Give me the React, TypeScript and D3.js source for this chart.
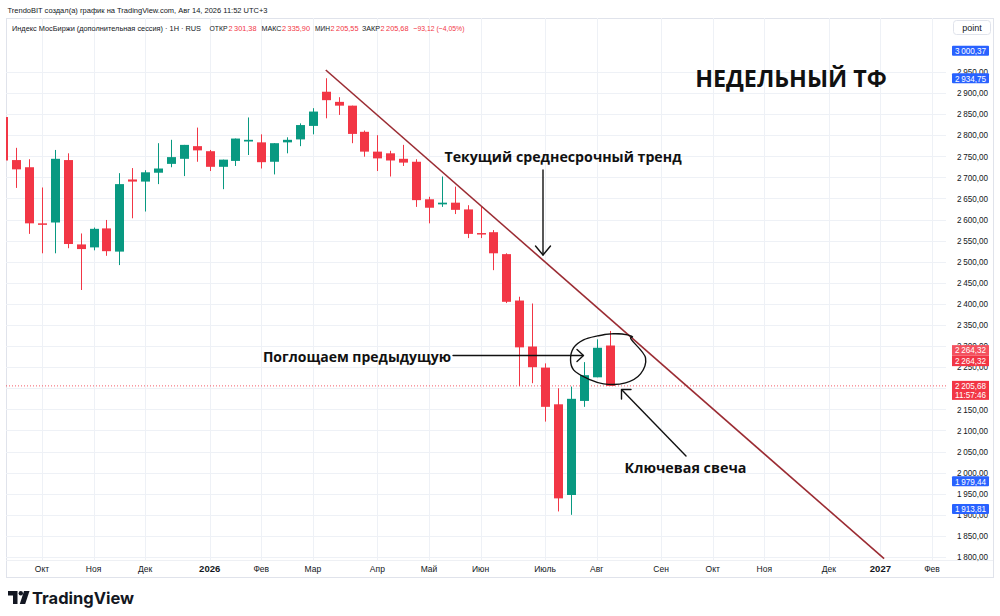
import React from "react";
import * as d3 from "d3";

// ---------- DATA ----------
const weeks = [
  "2025-09-15","2025-09-22","2025-09-29","2025-10-06","2025-10-13","2025-10-20","2025-10-27",
  "2025-11-03","2025-11-10","2025-11-17","2025-11-24","2025-12-01","2025-12-08","2025-12-15",
  "2025-12-22","2025-12-29","2026-01-05","2026-01-12","2026-01-19","2026-01-26","2026-02-02",
  "2026-02-09","2026-02-16","2026-02-23","2026-03-02","2026-03-09","2026-03-16","2026-03-23",
  "2026-03-30","2026-04-06","2026-04-13","2026-04-20","2026-04-27","2026-05-04","2026-05-11",
  "2026-05-18","2026-05-25","2026-06-01","2026-06-08","2026-06-15","2026-06-22","2026-06-29",
  "2026-07-06","2026-07-13","2026-07-20","2026-07-27","2026-08-03","2026-08-10",
];
const opens = [
  2843,2741,2724,2591,2593,2741,2541,2534,2579,2524,2695,2690,2711,2732,
  2744,2774,2762,2725,2739,2785,2783,2737,2783,2790,2822,2903,2879,2870,
  2808,2761,2757,2744,2737,2648,2636,2640,2624,2568,2570,2518,2408,2299,
  2249,2162,1947,2170,2226,2301.38,
];
const highs = [
  2843,2770,2743,2676,2765,2757,2567,2581,2599,2710,2722,2717,2781,2789,
  2777,2818,2765,2742,2792,2842,2802,2781,2795,2828,2864,2935,2890,2870,
  2811,2800,2763,2777,2743,2654,2702,2678,2634,2630,2575,2520,2417,2401,
  2259,2200,2204,2262,2316,2335.9,
];
const lows = [
  2734,2675,2566,2520,2520,2532,2433,2527,2514,2492,2603,2619,2684,2724,
  2703,2737,2715,2672,2727,2753,2721,2707,2757,2774,2802,2840,2848,2781,
  2749,2715,2702,2727,2630,2591,2630,2613,2556,2556,2480,2402,2205,2212,
  2121,1908,1900,2156,2226,2205.55,
];
const closes = [
  2740,2719,2591,2588,2744,2542,2530,2578,2525,2684,2690,2712,2721,2748,
  2777,2764,2725,2742,2792,2789,2736,2781,2789,2824,2856,2883,2870,2803,
  2761,2745,2740,2735,2646,2628,2640,2623,2566,2566,2520,2405,2297,2250,
  2156,1939,2175,2231,2296,2205.68,
];

const monthTickDates = [
  "2025-10-06","2025-11-03","2025-12-01","2026-01-05","2026-02-02","2026-03-02",
  "2026-04-06","2026-05-04","2026-06-01","2026-07-06","2026-08-03","2026-09-07",
  "2026-10-05","2026-11-02","2026-12-07","2027-01-04","2027-02-01",
];
const monthTickLabels = [
  "Окт","Ноя","Дек","2026","Фев","Мар","Апр","Май","Июн","Июль","Авг","Сен",
  "Окт","Ноя","Дек","2027","Фев",
];
const priceTicks = [
  1800,1850,1900,1950,2000,2050,2100,2150,2250,2300,2350,2400,2450,
  2500,2550,2600,2650,2700,2750,2800,2850,2900,2950,
];
const trendDates = ["2026-03-09", "2027-01-06"];
const trendValues = [2954.5, 1796];

const lastClose = 2205.68;
const redLabels = [2264.32, 2264.32];
const blueLabels = [3000.37, 2934.75, 1979.44, 1913.81];

// ---------- LAYOUT ----------
const W = 1000, H = 616;
const boxL = 6, boxR = 993, boxT = 18, boxB = 577;
const plotR = 946, plotB = 560;

const RED = "#f23645";
const GREEN = "#089981";
const TEXT = "#131722";
const GRID = "#eef1f6";

const parse = d3.utcParse("%Y-%m-%d");
const x = d3.scaleUtc()
  .domain([parse("2025-10-06")!, parse("2027-02-01")!])
  .range([42, 932]);
const y = d3.scaleLinear().domain([1800, 2900]).range([557, 93]);

const loc = d3.formatLocale({ decimal: ",", thousands: "\u2009", grouping: [3], currency: ["", ""] });
const fmt = loc.format(",.2f");

const FONT = "'Liberation Sans', Arial, sans-serif";
const AFONT = "'Open Sans', 'DejaVu Sans', sans-serif";

export default function App() {
  const candles = weeks.map((d, i) => ({
    date: parse(d)!, o: opens[i], h: highs[i], l: lows[i], c: closes[i],
  }));
  const bw = 9;

  const trendLine = d3.line<[Date, number]>()
    .x((d) => x(d[0]))
    .y((d) => y(d[1]))(trendDates.map((d, i) => [parse(d)!, trendValues[i]]));

  const kx = x(candles[47].date);
  const ky = y(lastClose);
  const ellPts: [number, number][] = [
    [-11, -50], [2, -52], [18, -51], [23, -49], [21, -48],
    [36, -28], [31, -12], [16, -3], [-6, -2], [-19, -6], [-36, -16], [-39, -26],
    [-36, -38], [-26, -46], [-12, -50], [1, -52], [18, -51], [23, -49],
  ];
  const ellipse = d3.line().curve(d3.curveCatmullRom)(
    ellPts.map(([a, b]) => [kx + a, ky + b]) as [number, number][]
  );

  const legend: { t: string; x: number; w: number; red?: boolean }[] = [
    { t: "Индекс МосБиржи (дополнительная сессия) · 1Н · RUS", x: 12, w: 189 },
    { t: "ОТКР", x: 209.5, w: 18 },
    { t: fmt(opens[47]), x: 228.5, w: 28, red: true },
    { t: "МАКС", x: 261.5, w: 20 },
    { t: fmt(highs[47]), x: 282, w: 28, red: true },
    { t: "МИН", x: 315, w: 15 },
    { t: fmt(lows[47]), x: 330.5, w: 28, red: true },
    { t: "ЗАКР", x: 362, w: 18 },
    { t: fmt(closes[47]), x: 380.5, w: 28, red: true },
    { t: "−93,12 (−4,05%)", x: 413.5, w: 51, red: true },
  ];

  return (
    <svg width={W} height={H} style={{ display: "block", position: "absolute", left: 0, top: 0 }}>
      <rect width={W} height={H} fill="#ffffff" />
      <defs>
        <clipPath id="plotClip">
          <rect x={boxL} y={boxT} width={plotR - boxL} height={plotB - boxT} />
        </clipPath>
      </defs>

      {/* header */}
      <text x={7.5} y={13} fontFamily={FONT} fontSize={8} fill={TEXT}
        textLength={260} lengthAdjust="spacingAndGlyphs">
        TrendoBIT создал(а) график на TradingView.com, Авг 14, 2026 11:52 UTC+3
      </text>

      {/* chart box */}
      <rect x={boxL + 0.5} y={boxT + 0.5} width={boxR - boxL} height={boxB - boxT} fill="#fff" stroke="#e0e3eb" strokeWidth={1} />

      {/* grid */}
      <g>
        {[...priceTicks, 2200].map((p) => (
          <line key={p} x1={boxL} x2={plotR} y1={Math.round(y(p)) + 0.5} y2={Math.round(y(p)) + 0.5} stroke={GRID} />
        ))}
        {monthTickDates.map((d) => (
          <line key={d} x1={Math.round(x(parse(d)!)) + 0.5} x2={Math.round(x(parse(d)!)) + 0.5} y1={boxT} y2={plotB} stroke={GRID} />
        ))}
        <line x1={boxL} x2={boxR} y1={plotB + 0.5} y2={plotB + 0.5} stroke="#eef0f4" />
      </g>

      {/* legend */}
      {legend.map((s, i) => (
        <text key={i} x={s.x} y={30.5} fontFamily={FONT} fontSize={8} fill={s.red ? RED : TEXT}
          textLength={s.w} lengthAdjust="spacingAndGlyphs">
          {s.t}
        </text>
      ))}

      <g clipPath="url(#plotClip)">
        <line x1={boxL} x2={plotR} y1={y(lastClose)} y2={y(lastClose)} stroke={RED} strokeWidth={1} strokeDasharray="1 2" opacity={0.8} />

        {candles.map((c, i) => {
          const cx = Math.round(x(c.date)) + 0.5;
          const up = c.c >= c.o;
          const col = up ? GREEN : RED;
          const top = y(Math.max(c.o, c.c));
          const bot = y(Math.min(c.o, c.c));
          return (
            <g key={i}>
              <line x1={cx} x2={cx} y1={y(c.h)} y2={y(c.l)} stroke={col} strokeWidth={1} />
              <rect x={cx - bw / 2} y={top} width={bw} height={Math.max(1.5, bot - top)} fill={col} />
            </g>
          );
        })}

        <path d={trendLine!} stroke="#9b2c33" strokeWidth={1.6} fill="none" />
      </g>

      {/* annotations */}
      <text x={791} y={86.5} textAnchor="middle" fontFamily={AFONT} fontWeight={700} fontSize={23.3} fill="#111">
        НЕДЕЛЬНЫЙ ТФ
      </text>
      <text x={563} y={162} textAnchor="middle" fontFamily={AFONT} fontWeight={700} fontSize={14.2} fill="#111">
        Текущий среднесрочный тренд
      </text>
      <text x={357} y={361.5} textAnchor="middle" fontFamily={AFONT} fontWeight={700} fontSize={14} fill="#111">
        Поглощаем предыдущую
      </text>
      <text x={685.5} y={472.5} textAnchor="middle" fontFamily={AFONT} fontWeight={700} fontSize={14.3} fill="#111">
        Ключевая свеча
      </text>

      <g stroke="#111" strokeWidth={1.4} fill="none" strokeLinecap="round" strokeLinejoin="round">
        <line x1={543} y1={170} x2={543} y2={255} />
        <polyline points="535.5,246 543,255 550.5,246" />
        <line x1={453} y1={355.5} x2={583} y2={355.5} />
        <polyline points="577,349.5 583.5,355.5 577,361.5" />
        <line x1={686} y1={456} x2={622} y2={390} />
        <polyline points="621.5,399 621.5,389.5 631,389.5" />
        <path d={ellipse!} />
      </g>

      {/* price axis labels */}
      {priceTicks.map((p) => (
        <text key={p} x={957} y={y(p) + 3.3} fontFamily={FONT} fontSize={9.5} fill={TEXT}
          textLength={31} lengthAdjust="spacingAndGlyphs">
          {fmt(p)}
        </text>
      ))}

      {/* blue labels */}
      {blueLabels.map((p) => (
        <g key={p}>
          <rect x={952} y={y(p) - 5} width={37} height={10} fill="#2962ff" rx={1} />
          <text x={955} y={y(p) + 3.2} fontFamily={FONT} fontSize={9} fill="#fff"
            textLength={31} lengthAdjust="spacingAndGlyphs">{fmt(p)}</text>
        </g>
      ))}

      {/* red labels */}
      {redLabels.map((p, i) => (
        <g key={i}>
          <rect x={952} y={y(p) - 16 + i * 10.5} width={37} height={10.5} fill={i === 0 ? "#f4515e" : "#f23645"} />
          <text x={955} y={y(p) - 8 + i * 10.5} fontFamily={FONT} fontSize={8.5} fill="#fff"
            textLength={31} lengthAdjust="spacingAndGlyphs">{fmt(p)}</text>
        </g>
      ))}
      <rect x={952} y={y(lastClose) - 5} width={37} height={19} fill={RED} />
      <text x={955} y={y(lastClose) + 3} fontFamily={FONT} fontSize={8.5} fill="#fff"
        textLength={31} lengthAdjust="spacingAndGlyphs">{fmt(lastClose)}</text>
      <text x={955} y={y(lastClose) + 12.3} fontFamily={FONT} fontSize={8.5} fill="#fff"
        textLength={31} lengthAdjust="spacingAndGlyphs">11:57:46</text>

      {/* point button */}
      <rect x={953.5} y={20.5} width={37} height={14} rx={3} fill="#fff" stroke="#e0e3eb" />
      <text x={972} y={30.5} textAnchor="middle" fontFamily={FONT} fontSize={9} fill={TEXT}>point</text>

      {/* time axis */}
      {monthTickDates.map((d, i) => {
        const lab = monthTickLabels[i];
        const isYear = /^\d{4}$/.test(lab);
        return (
          <text key={d} x={x(parse(d)!)} y={572} textAnchor="middle" fontFamily={FONT}
            fontSize={isYear ? 9.5 : 8.5} fontWeight={isYear ? 700 : 400} fill={TEXT}>
            {lab}
          </text>
        );
      })}

      {/* TradingView logo */}
      <g fill="#131722">
        <path d="M8 591 H17.5 V604 H13 V595.5 H8 Z" />
        <circle cx={20.8} cy={593.2} r={2.2} />
        <path d="M24 591 H29.5 L25.2 604 H19.8 Z" />
        <text x={32} y={603.5} fontFamily="'Inter', 'Open Sans', sans-serif" fontWeight={700} fontSize={16.5}>TradingView</text>
      </g>
    </svg>
  );
}
